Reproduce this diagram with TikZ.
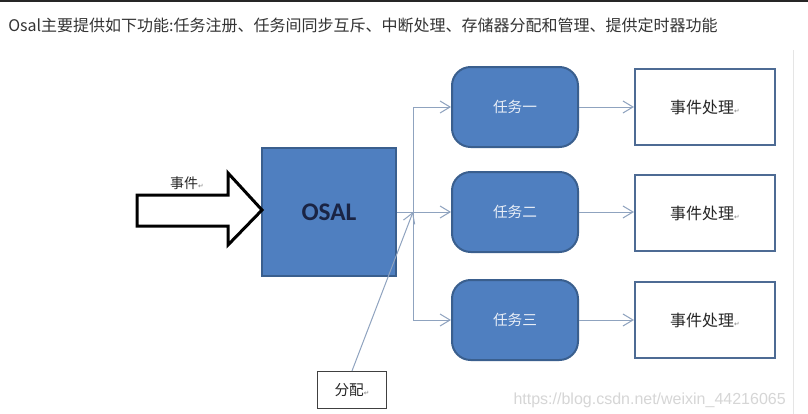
\documentclass[tikz,border=0pt]{standalone}
\usepackage{fontspec}
\setmainfont{Noto Sans CJK SC}
\newfontfamily\carlfont{Carlito}
\newfontfamily\djvfont{DejaVu Sans}
\newfontfamily\libsfont{Liberation Sans}
\usetikzlibrary{arrows.meta}
\definecolor{boxblue}{HTML}{4F7FC0}
\definecolor{boxedge}{HTML}{3A5F8E}
\definecolor{procedge}{HTML}{4D6B94}
\definecolor{connc}{HTML}{8FA3BF}
\definecolor{titlec}{HTML}{333333}
\definecolor{tasktxt}{HTML}{E8EEF7}
\definecolor{wmark}{HTML}{D6D6D6}
\definecolor{osaltxt}{HTML}{1A2444}
\newcommand\retmark{{\djvfont\fontsize{5pt}{5pt}\selectfont\textcolor{gray}{↵}}}
\begin{document}
\begin{tikzpicture}[x=0.75pt,y=-0.75pt,
  taskbox/.style={draw=boxedge, line width=1.5pt, fill=boxblue, rounded corners=14pt,
    minimum width=126*0.75pt, minimum height=80*0.75pt, text=tasktxt,
    font=\fontsize{11pt}{13pt}\selectfont, inner sep=0pt},
  procbox/.style={draw=procedge, line width=1.6pt, fill=white,
    minimum width=140*0.75pt, minimum height=76*0.75pt, text=black!85,
    font=\fontsize{12pt}{14pt}\selectfont, inner sep=0pt},
  conn/.style={draw=connc, line width=0.75pt},
  tip/.style={-{Straight Barb[length=7.5pt,width=9pt]}}]
\useasboundingbox[fill=white] (0,0) rectangle (808,414);
% page decorations
\fill[black!85] (0,0) rectangle (808,2);
\draw[black!10, line width=0.75pt] (793,50) -- (793,414);
% title
\node[anchor=west, text=titlec, font=\fontsize{12pt}{14pt}\selectfont, inner sep=0pt] (title) at (8,25)
  {Osal主要提供如下功能:任务注册、任务间同步互斥、中断处理、存储器分配和管理、提供定时器功能};
% OSAL box
\node[draw=boxedge, line width=1.2pt, fill=boxblue, minimum width=134*0.75pt, minimum height=128*0.75pt,
  inner sep=0pt, text=osaltxt, font=\carlfont\bfseries\fontsize{19pt}{22pt}\selectfont] (osal) at (329,212) {OSAL};
% event arrow
\draw[line width=2.25pt, fill=white, line join=miter] (137,195) -- (228,195) -- (228,173) -- (262,210)
  -- (228,245) -- (228,226) -- (137,226) -- cycle;
\node[font=\fontsize{10.5pt}{12pt}\selectfont, text=black!85, inner sep=0pt] (evt) at (187,183) {事件\retmark};
% tasks
\node[taskbox] (t1) at (515,107) {任务一};
\node[taskbox] (t2) at (515,212) {任务二};
\node[taskbox] (t3) at (515,320) {任务三};
% processing boxes
\node[procbox] (e1) at (705,107) {事件处理\retmark};
\node[procbox] (e2) at (705,213) {事件处理\retmark};
\node[procbox] (e3) at (705,320) {事件处理\retmark};
% allocation box
\node[draw=black!75, line width=0.9pt, fill=white, minimum width=69*0.75pt, minimum height=37*0.75pt,
  inner sep=0pt, font=\fontsize{11pt}{13pt}\selectfont, text=black!85] (fp) at (352,390) {分配\retmark};
% connectors
\coordinate (j) at (413,212);
\draw[conn] (osal.east) -- (j);
\draw[conn,tip] (j) |- (t1.west);
\draw[conn,tip] (j) |- (t3.west);
\draw[conn,tip] (j) -- (t2.west);
\draw[conn,tip] (fp.north) -- (j);
\draw[conn,tip] (t1.east) -- (e1.west);
\draw[conn,tip] (t2.east) -- (e2.west |- t2.east);
\draw[conn,tip] (t3.east) -- (e3.west);
% watermark
\node[anchor=east, text=wmark, font=\libsfont\fontsize{12pt}{14pt}\selectfont, inner sep=0pt] (wm) at (786,400)
  {https://blog.csdn.net/weixin\_44216065};
\end{tikzpicture}
\end{document}
